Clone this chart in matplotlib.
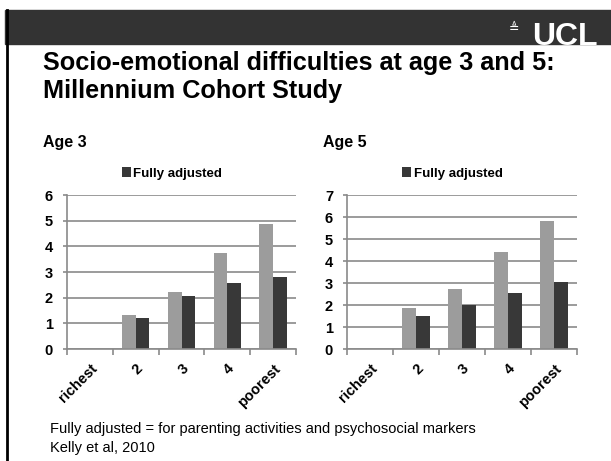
import numpy as np
import matplotlib
matplotlib.use("Agg")
import matplotlib.pyplot as plt
from matplotlib.patches import Rectangle
from matplotlib.lines import Line2D

plt.rcParams['font.family'] = ['Liberation Sans', 'DejaVu Sans']

# data
groups = ['richest', '2', '3', '4', 'poorest']
age3_unadj = [0, 1.32, 2.21, 3.74, 4.87]
age3_full = [0, 1.19, 2.06, 2.57, 2.81]
age5_unadj = [0, 1.86, 2.74, 4.42, 5.83]
age5_full = [0, 1.52, 2.02, 2.56, 3.05]

W, H = 611, 461
fig = plt.figure(figsize=(W / 100, H / 100), dpi=100)

def px(x, y):
    return x / W, 1 - y / H

# header band and left border
fig.patches.append(Rectangle(px(5, 44), 1, 34 / H, transform=fig.transFigure,
                             color='#333333', zorder=0))
fig.add_artist(Line2D([6.5 / W, 6.5 / W], [0, 1 - 10 / H], transform=fig.transFigure,
                      color='black', lw=2))
fig.text(*px(598, 45), 'UCL', color='white', fontsize=23, fontweight='bold',
         ha='right', va='baseline')
fig.text(*px(514, 29), '≜', color='white', fontsize=9, ha='center', va='center',
         family='DejaVu Sans')

fig.text(*px(43, 70), 'Socio-emotional difficulties at age 3 and 5:',
         fontsize=18.2, fontweight='bold', va='baseline')
fig.text(*px(43, 98), 'Millennium Cohort Study', fontsize=18.2, fontweight='bold',
         va='baseline')
fig.text(*px(43, 147), 'Age 3', fontsize=11.5, fontweight='bold', va='baseline')
fig.text(*px(323, 147), 'Age 5', fontsize=11.5, fontweight='bold', va='baseline')

fig.text(*px(50, 433), 'Fully adjusted = for parenting activities and psychosocial markers',
         fontsize=10.5, va='baseline')
fig.text(*px(50, 452), 'Kelly et al, 2010', fontsize=10.5, va='baseline')

light = '#9c9c9c'
dark = '#383838'
grid = '#8a8a8a'


def panel(rect, unadj, full, ymax):
    ax = fig.add_axes(rect)
    x = np.arange(len(groups))
    ax.bar(x - 0.15, unadj, 0.3, color=light, zorder=2, label='Unadjusted')
    b = ax.bar(x + 0.15, full, 0.3, color=dark, zorder=2, label='Fully adjusted')
    ax.set_xlim(-0.5, len(groups) - 0.5)
    ax.set_ylim(0, ymax)
    ax.set_yticks(range(ymax + 1))
    ax.yaxis.grid(True, color=grid, lw=1.2, zorder=0)
    ax.set_axisbelow(True)
    for s in ['top', 'right']:
        ax.spines[s].set_visible(False)
    for s in ['left', 'bottom']:
        ax.spines[s].set_color(grid)
        ax.spines[s].set_linewidth(1.2)
    ax.set_xticks(x)
    ax.set_xticklabels(groups, rotation=45, ha='right', va='top',
                       rotation_mode='anchor', fontweight='bold', fontsize=10.5)
    ax.set_xticks(np.arange(-0.5, len(groups)), minor=True)
    ax.tick_params(axis='x', which='major', length=0, pad=9)
    ax.tick_params(axis='x', which='minor', length=4, color=grid, width=1.2)
    ax.tick_params(axis='y', length=3, color=grid, width=1.2, pad=7, labelsize=10.5)
    for t in ax.get_yticklabels():
        t.set_fontweight('bold')
    ax.legend(handles=[b], loc='center', bbox_to_anchor=(0.458, 1.14), frameon=False,
              handlelength=0.7, handleheight=0.7, handletextpad=0.2,
              prop={'weight': 'bold', 'size': 9.5})
    return ax


panel([67 / W, 1 - 349 / H, 229 / W, 154 / H], age3_unadj, age3_full, 6)
panel([347 / W, 1 - 349 / H, 230 / W, 154 / H], age5_unadj, age5_full, 7)

fig.savefig('out.png', dpi=100)
